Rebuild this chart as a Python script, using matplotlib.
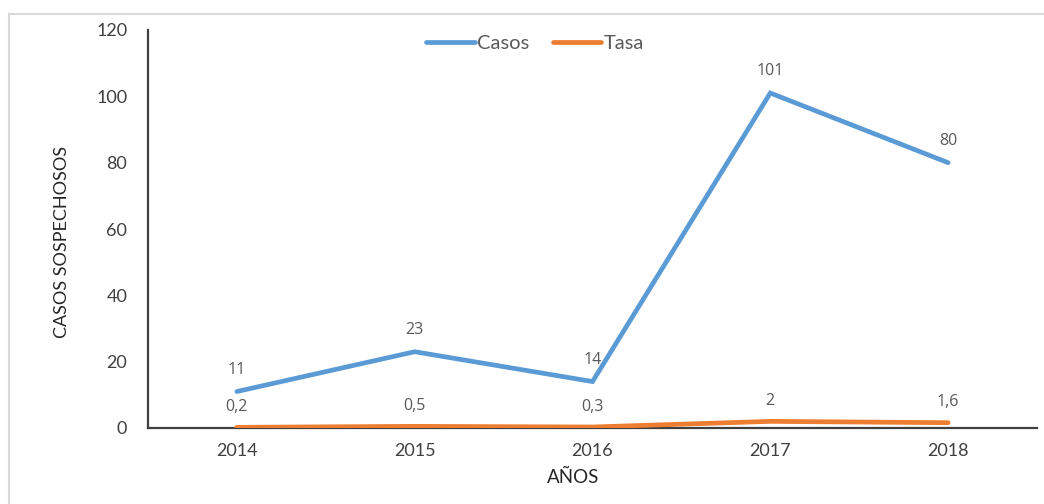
import matplotlib.pyplot as plt

years = ['2014', '2015', '2016', '2017', '2018']
casos = [11, 23, 14, 101, 80]
tasa = [0.2, 0.5, 0.3, 2, 1.6]
tasa_labels = ['0,2', '0,5', '0,3', '2', '1,6']

plt.rcParams['font.family'] = ['Lato', 'DejaVu Sans']

fig = plt.figure(figsize=(10.44, 5.04), dpi=100)
ax = fig.add_axes([148 / 1044, 1 - 428 / 504, (1037 - 148) / 1044, (428 - 30) / 504])

x = list(range(len(years)))
ax.plot(x, casos, color='#5B9BD5', lw=3.4, label='Casos', solid_capstyle='round', solid_joinstyle='miter', zorder=3)
ax.plot(x, tasa, color='#ED7D31', lw=3.4, label='Tasa', solid_capstyle='round', zorder=4)

# data labels
for xi, v in zip(x, casos):
    ax.annotate(str(v), (xi, v), xytext=(0, 10), textcoords='offset points',
                ha='center', va='bottom', fontsize=11.5, color='#595959', family='Open Sans')
for xi, v, s in zip(x, tasa, tasa_labels):
    ax.annotate(s, (xi, v), xytext=(0, 9), textcoords='offset points',
                ha='center', va='bottom', fontsize=11.5, color='#595959', family='Open Sans')

ax.set_xlim(-0.5, 4.5)
ax.set_ylim(0, 120)
ax.set_yticks(range(0, 121, 20))
ax.set_xticks(x)
ax.set_xticklabels(years)
ax.tick_params(axis='y', length=0, pad=15, labelsize=13, labelcolor='#404040')
ax.tick_params(axis='x', length=0, pad=11, labelsize=13, labelcolor='#404040')

for s in ['top', 'right']:
    ax.spines[s].set_visible(False)
for s in ['left', 'bottom']:
    ax.spines[s].set_color('#404040')
    ax.spines[s].set_linewidth(1.6)

fig.text(62 / 1044, 1 - 242 / 504, 'CASOS SOSPECHOSOS', rotation=90, ha='center', va='center',
         fontsize=13, color='#262626')
fig.text(573 / 1044, 1 - 477 / 504, 'AÑOS', ha='center', va='center', fontsize=13.5, color='#262626')

fig.legend(loc='center', bbox_to_anchor=(535 / 1044, 1 - 43 / 504), ncol=2, frameon=False,
           fontsize=14.5, handlelength=2.4, handletextpad=0.1, columnspacing=1.2, labelcolor='#595959')

# outer frame (top and left edges visible)
fig.add_artist(plt.Line2D([9 / 1044, 1], [1 - 14 / 504, 1 - 14 / 504], transform=fig.transFigure,
                          color='#d9d9d9', lw=1.5))
fig.add_artist(plt.Line2D([9 / 1044, 9 / 1044], [0, 1 - 14 / 504], transform=fig.transFigure,
                          color='#d9d9d9', lw=1.5))

fig.savefig('out.png', dpi=100)
